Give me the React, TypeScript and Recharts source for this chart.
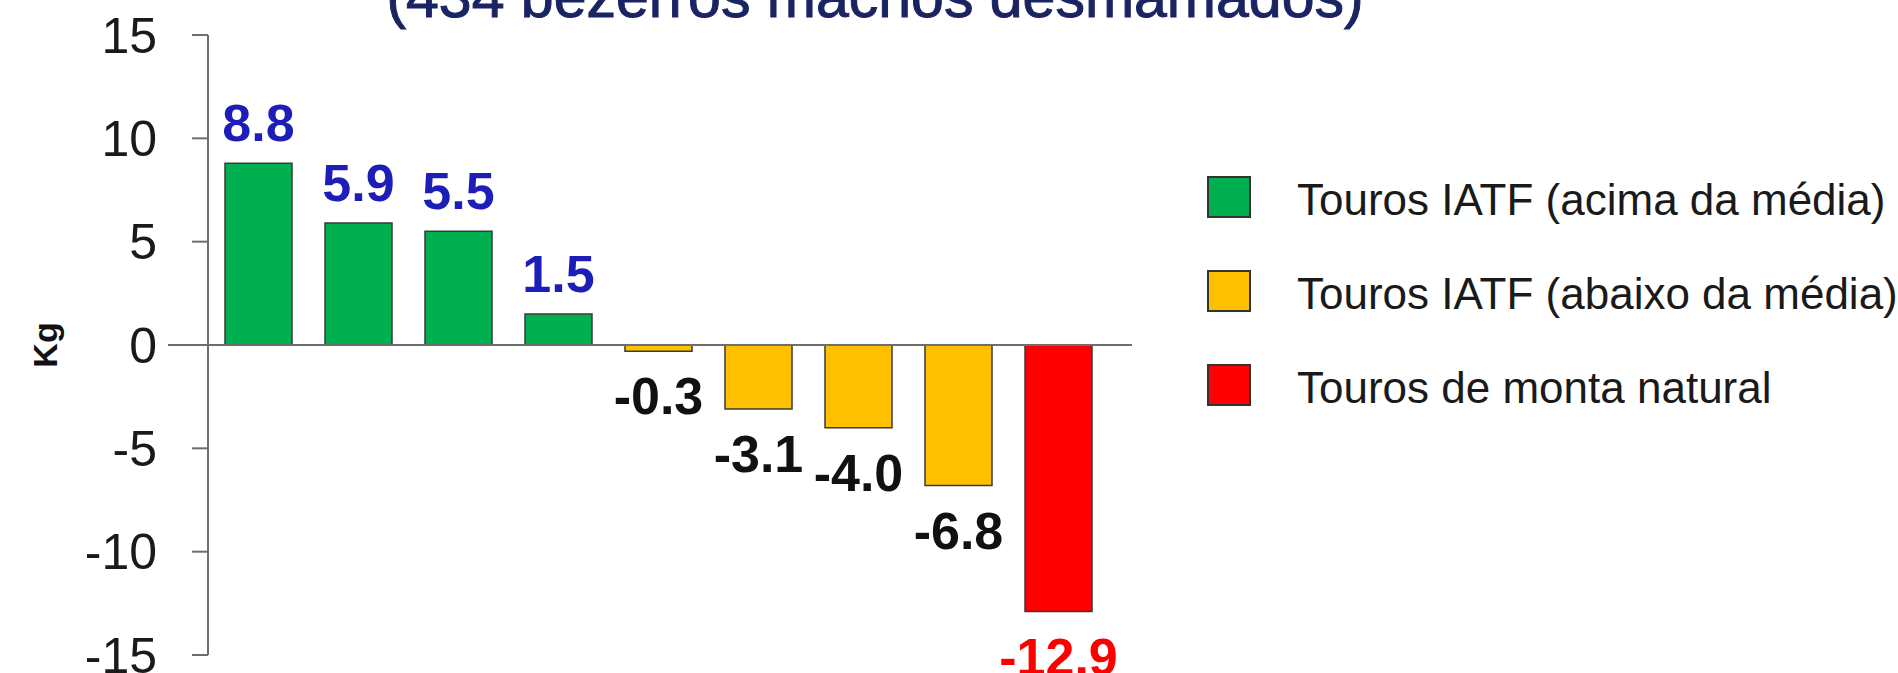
import React from 'react';
import { BarChart, Bar, XAxis, YAxis, Cell, LabelList, ReferenceLine, Legend } from 'recharts';

// ---- data ----
const categories = ['T1', 'T2', 'T3', 'T4', 'T5', 'T6', 'T7', 'T8', 'T9'];
const values = [8.8, 5.9, 5.5, 1.5, -0.3, -3.1, -4.0, -6.8, -12.9];
const groups = [0, 0, 0, 0, 1, 1, 1, 1, 2];
const seriesNames = [
  'Touros IATF (acima da média)',
  'Touros IATF (abaixo da média)',
  'Touros de monta natural',
];
const yTicks = [-15, -10, -5, 0, 5, 10, 15];
const title = '(434 bezerros machos desmamados)';
const yLabel = 'Kg';

// ---- styles ----
const groupFill = ['#00b050', '#ffc000', '#ff0000'];
const groupLabelColor = ['#1d1db8', '#111111', '#ff0000'];
const FONT = '"Liberation Sans", Arial, Helvetica, sans-serif';
const AXIS = '#6e6e6e';

const data = categories.map((c, i) => ({ name: c, value: values[i], group: groups[i] }));

const renderLabel = (props: any) => {
  const { x, y, width, height, index } = props;
  const v = values[index];
  const top = Math.min(y, y + height);
  const bottom = Math.max(y, y + height);
  const cx = x + width / 2;
  const ty = v >= 0 ? top - 22 : bottom + 63;
  return (
    <text x={cx} y={ty} textAnchor="middle" fontFamily={FONT} fontWeight="bold" fontSize={52} fill={groupLabelColor[groups[index]]}>
      {v.toFixed(1)}
    </text>
  );
};

const renderYLabel = (props: any) => {
  const vb = props.viewBox || { y: 35, height: 620 };
  const cy = vb.y + vb.height / 2;
  const lx = 45;
  return (
    <text x={lx} y={cy} dy="0.35em" textAnchor="middle" fontFamily={FONT} fontWeight="bold" fontSize={34} fill="#111" transform={`rotate(-90, ${lx}, ${cy})`}>
      {yLabel}
    </text>
  );
};

const LEG_STEP = 94;
const renderLegend = () => (
  <svg width={698} height={300} style={{ display: 'block' }}>
    {seriesNames.map((n, i) => (
      <g key={n}>
        <rect x={8} y={9 + i * LEG_STEP} width={42} height={40} fill={groupFill[i]} stroke="#333" strokeWidth={2} />
        <text x={97} y={47 + i * LEG_STEP} fontFamily={FONT} fontSize={44} fill="#1a1a1a">
          {n}
        </text>
      </g>
    ))}
  </svg>
);

export default function App() {
  return (
    <div style={{ position: 'absolute', left: 0, top: 0, width: 1898, height: 673, background: '#fff' }}>
      <BarChart width={1898} height={673} data={data} margin={{ top: 35, right: 790, bottom: 18, left: 0 }}>
        <XAxis dataKey="name" hide padding={{ left: 0, right: 0 }} />
        <YAxis
          type="number"
          domain={[-15, 15]}
          ticks={yTicks}
          interval={0}
          width={208}
          tickSize={16}
          tickMargin={35}
          axisLine={{ stroke: AXIS, strokeWidth: 2 }}
          tickLine={{ stroke: AXIS, strokeWidth: 2 }}
          tick={{ fontSize: 50, fill: '#1a1a1a', fontFamily: FONT }}
          label={{ content: renderYLabel }}
        />
        <Bar dataKey="value" barSize={67} isAnimationActive={false} stroke="#3a3a3a" strokeWidth={1.5}>
          {data.map((d, i) => (
            <Cell key={i} fill={groupFill[d.group]} />
          ))}
          <LabelList dataKey="value" content={renderLabel} />
        </Bar>
        <ReferenceLine
          y={0}
          ifOverflow="visible"
          stroke={AXIS}
          strokeWidth={2}
          shape={(p: any) => (
            <line x1={p.x1 - 40} y1={p.y1} x2={p.x2 + 24} y2={p.y2} stroke={AXIS} strokeWidth={2} />
          )}
        />
        <Legend
          layout="vertical"
          verticalAlign="middle"
          align="center"
          wrapperStyle={{ position: 'absolute', left: 1200, top: 168, width: 698, height: 300 }}
          content={renderLegend}
        />
      </BarChart>
      <svg width={1898} height={60} style={{ position: 'absolute', left: 0, top: 0, pointerEvents: 'none' }}>
        <text x={875} y={17} textAnchor="middle" fontFamily={FONT} fontSize={59} fill="#1b2463" stroke="#1b2463" strokeWidth={1}>
          {title}
        </text>
      </svg>
    </div>
  );
}
